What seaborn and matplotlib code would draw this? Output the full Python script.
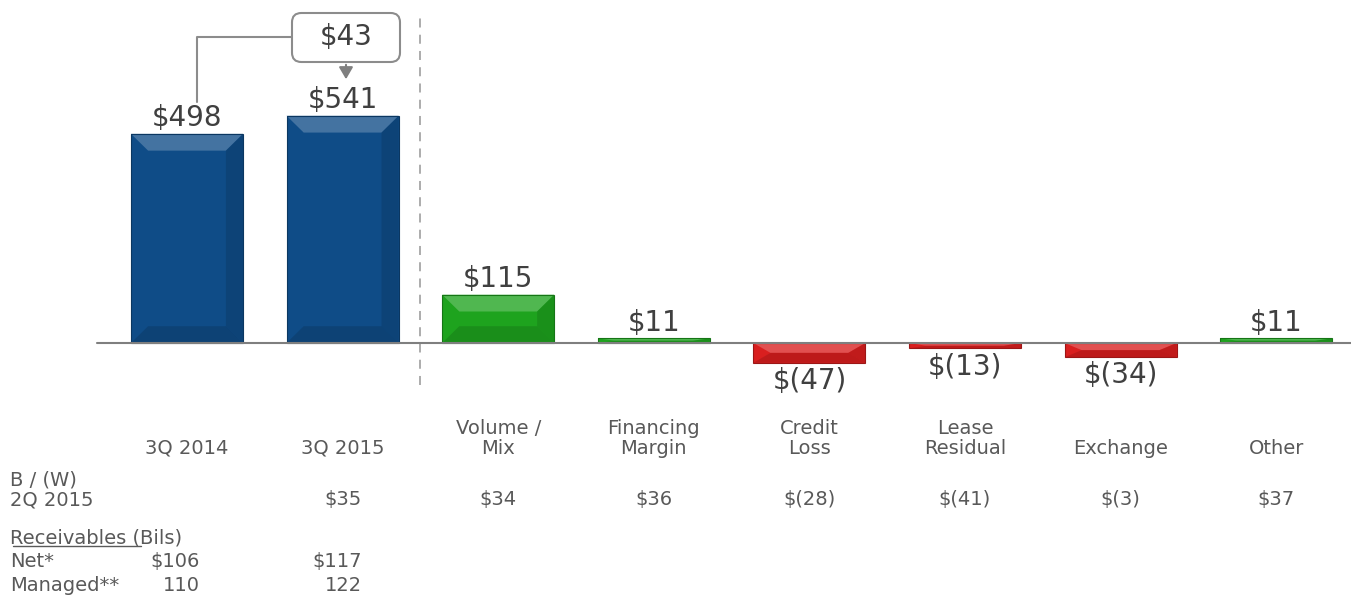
import matplotlib
matplotlib.use("Agg")
import matplotlib.pyplot as plt
import seaborn as sns
import pandas as pd
from matplotlib.patches import Polygon, FancyBboxPatch
from matplotlib.lines import Line2D
import matplotlib.colors as mcolors

# ---------------- data ----------------
categories = ["3Q 2014", "3Q 2015", "Volume /\nMix", "Financing\nMargin", "Credit\nLoss",
              "Lease\nResidual", "Exchange", "Other"]
values = [498, 541, 115, 11, -47, -13, -34, 11]
value_labels = ["$498", "$541", "$115", "$11", "$(47)", "$(13)", "$(34)", "$11"]
bar_kinds = ["total", "total", "pos", "pos", "neg", "neg", "neg", "pos"]
bw_values = ["", "$35", "$34", "$36", "$(28)", "$(41)", "$(3)", "$37"]
change_label = "$43"
net_receivables = ["$106", "$117"]
managed_receivables = ["110", "122"]

W, H = 1351, 597
colors = {"total": "#0F4C87", "pos": "#1EA31E", "neg": "#D91F1F"}

sns.set_theme(style="white")
plt.rcParams["font.family"] = ["DejaVu Sans"]

fig = plt.figure(figsize=(W / 100, H / 100), dpi=100)
ax = fig.add_axes([0, 0, 1, 1])

df = pd.DataFrame({"cat": categories, "val": values, "kind": bar_kinds})
sns.barplot(data=df, x="cat", y="val", hue="kind", palette=colors, order=categories,
            width=0.72, dodge=False, legend=False, ax=ax, saturation=1,
            edgecolor="none", linewidth=0)

# pixel -> data mapping
px_per_cat = 155.6
px_per_unit = 0.42
x0_px, base_px = 187, 343
ax.set_xlim(-x0_px / px_per_cat, (W - x0_px) / px_per_cat)
ax.set_ylim(-(H - base_px) / px_per_unit, base_px / px_per_unit)
ax.axis("off")

def px2data(x, y):
    return (x - x0_px) / px_per_cat, (base_px - y) / px_per_unit

# bevel decoration on bars
for p in ax.patches:
    x, w = p.get_x(), p.get_width()
    y0, h = p.get_y(), p.get_height()
    lo, hi = min(y0, y0 + h), max(y0, y0 + h)
    base = mcolors.to_rgb(p.get_facecolor())
    light = tuple(c + (1 - c) * 0.22 for c in base)
    dark = tuple(c * 0.72 for c in base)
    dx = min(0.11, w / 4)
    dy = min(40, (hi - lo) / 2)
    ax.add_patch(Polygon([(x, hi), (x + w, hi), (x + w - dx, hi - dy), (x + dx, hi - dy)],
                         closed=True, facecolor=light, edgecolor="none", zorder=3))
    ax.add_patch(Polygon([(x, lo), (x + w, lo), (x + w - dx, lo + dy), (x + dx, lo + dy)],
                         closed=True, facecolor=dark, edgecolor="none", alpha=0.45, zorder=3))
    ax.add_patch(Polygon([(x + w, hi), (x + w, lo), (x + w - dx, lo + dy), (x + w - dx, hi - dy)],
                         closed=True, facecolor=dark, edgecolor="none", alpha=0.4, zorder=3))
    ax.add_patch(plt.Rectangle((x, lo), w, hi - lo, facecolor="none",
                               edgecolor=dark, linewidth=0.8, zorder=4))

# baseline and separator
bx0, _ = px2data(97, 0)
ax.plot([bx0, ax.get_xlim()[1]], [0, 0], color="#7F7F7F", lw=1.5, zorder=5)
sx, sy_top = px2data(420, 12)
_, sy_bot = px2data(420, 385)
ax.plot([sx, sx], [sy_bot, sy_top], color="#A6A6A6", lw=1.3, ls=(0, (5, 4)), zorder=1)

# value labels
label_color = "#404040"
vfs = 20
for i, (v, lab) in enumerate(zip(values, value_labels)):
    if v >= 0:
        ax.annotate(lab, (i, v), xytext=(0, 1), textcoords="offset points",
                    ha="center", va="bottom", fontsize=vfs, color=label_color, zorder=6)
    else:
        ax.annotate(lab, (i, v), xytext=(0, -3), textcoords="offset points",
                    ha="center", va="top", fontsize=vfs, color=label_color, zorder=6)

# callout box
bcx, bcy = px2data(346, 37)
bl, bt = px2data(292, 13)
br, bb = px2data(400, 62)
box = FancyBboxPatch((bl, bb), br - bl, bt - bb,
                     boxstyle="round,pad=0,rounding_size=0.06",
                     mutation_aspect=(px_per_cat / px_per_unit),
                     facecolor="white", edgecolor="#8C8C8C", lw=1.5, zorder=6)
ax.add_patch(box)
ax.text(bcx, bcy, change_label, ha="center", va="center", fontsize=vfs,
        color=label_color, zorder=7)
lx, _ = px2data(197, 0)
_, ly = px2data(0, 102)
ax.plot([bl, lx, lx], [bcy, bcy, ly], color="#8C8C8C", lw=1.5, zorder=5)
_, ay_end = px2data(0, 82)
ax.annotate("", xy=(bcx, ay_end), xytext=(bcx, bb),
            arrowprops=dict(arrowstyle="-|>,head_width=0.35,head_length=0.6",
                            color="#7F7F7F", lw=1.5), zorder=6)

# category labels
tc = "#595959"
tfs = 14
xt = ax.get_xaxis_transform()
for i, c in enumerate(categories):
    ax.text(i, 1 - 454 / H, c, transform=xt, ha="center", va="baseline",
            fontsize=tfs, color=tc, linespacing=1.05, multialignment="center")

# B/(W) row
fig.text(10 / W, 1 - 485 / H, "B / (W)", ha="left", va="baseline", fontsize=tfs, color=tc)
fig.text(10 / W, 1 - 505 / H, "2Q 2015", ha="left", va="baseline", fontsize=tfs, color=tc)
for i, s in enumerate(bw_values):
    if s:
        ax.text(i, 1 - 505 / H, s, transform=xt, ha="center", va="baseline",
                fontsize=tfs, color=tc)

# receivables block
fig.text(10 / W, 1 - 543 / H, "Receivables (Bils)", ha="left", va="baseline",
         fontsize=tfs, color=tc)
fig.add_artist(Line2D([13 / W, 141 / W], [1 - 546 / H, 1 - 546 / H],
                      color=tc, lw=1.0, transform=fig.transFigure))
fig.text(10 / W, 1 - 567 / H, "Net*", ha="left", va="baseline", fontsize=tfs, color=tc)
fig.text(10 / W, 1 - 591 / H, "Managed**", ha="left", va="baseline", fontsize=tfs, color=tc)
for xr, n, m in zip([200, 362], net_receivables, managed_receivables):
    fig.text(xr / W, 1 - 567 / H, n, ha="right", va="baseline", fontsize=tfs, color=tc)
    fig.text(xr / W, 1 - 591 / H, m, ha="right", va="baseline", fontsize=tfs, color=tc)

fig.savefig("out.png", dpi=100, facecolor="white")
